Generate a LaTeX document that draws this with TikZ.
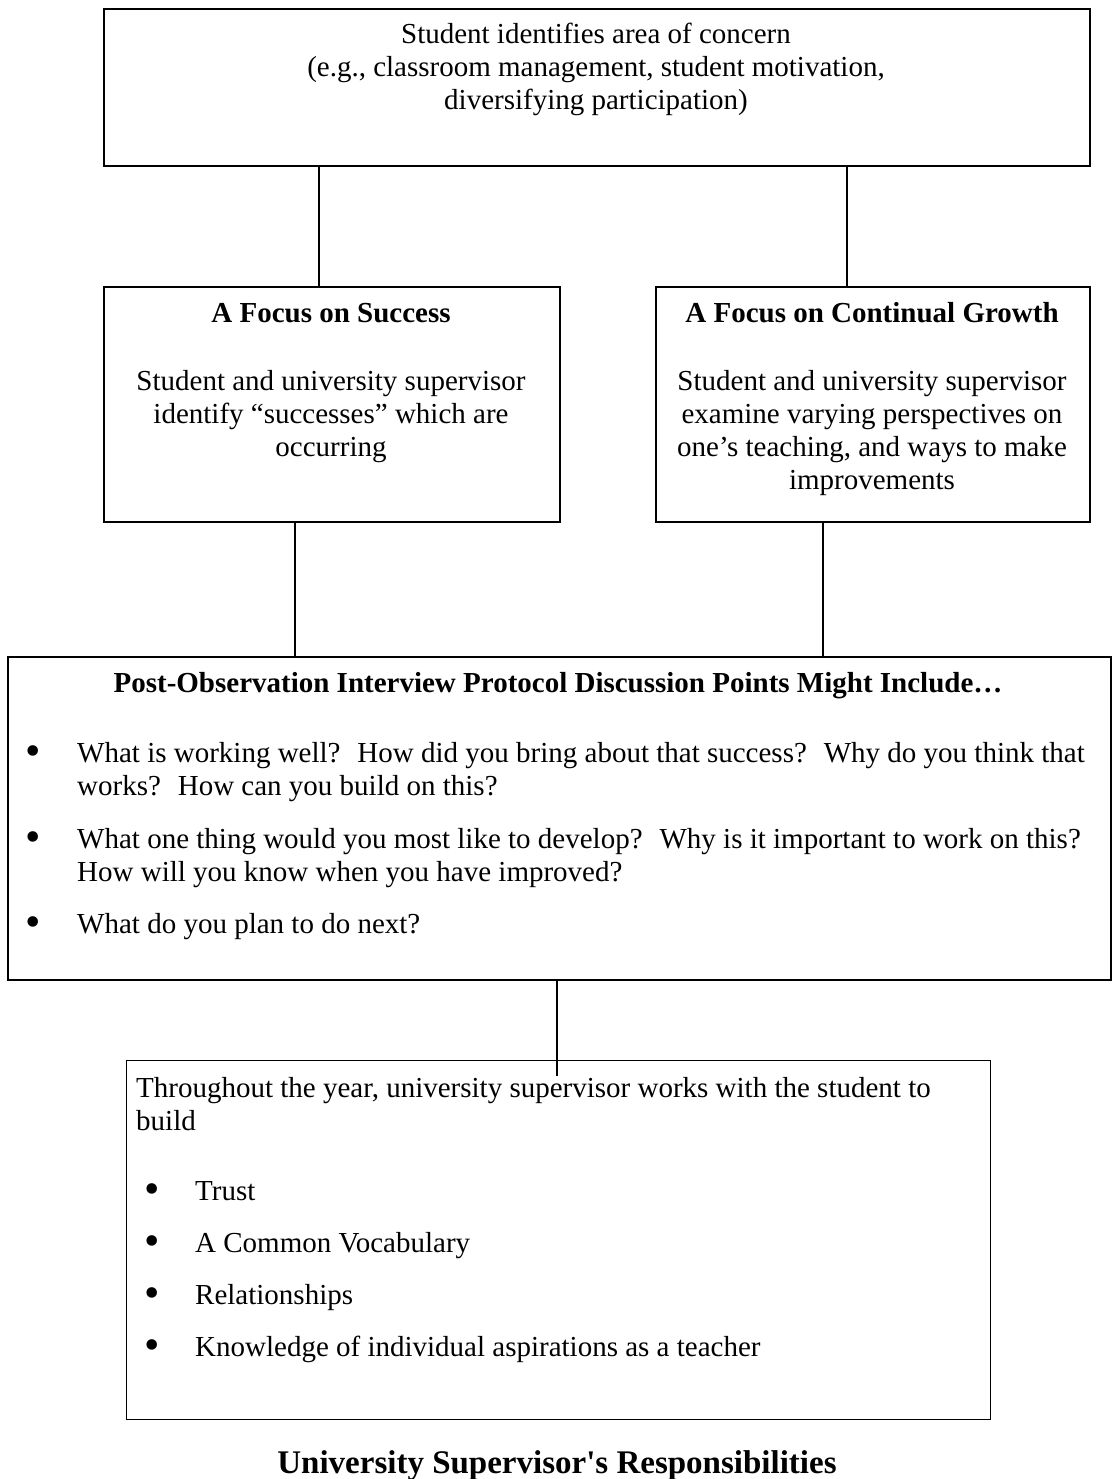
\documentclass[tikz,border=0pt]{standalone}
\usepackage{fontspec}
\setmainfont{Liberation Serif}
\begin{document}
\begin{tikzpicture}[x=1pt,y=-1pt,
  box/.style={draw, line width=1.6pt, inner sep=0pt, anchor=north west},
  conn/.style={line width=1.3pt},
  body/.style={inner sep=0pt, anchor=base, font=\fontsize{29}{33}\selectfont},
  bodyl/.style={inner sep=0pt, anchor=base west, align=left, font=\fontsize{29}{33}\selectfont},
  dot/.style={inner sep=0pt, anchor=base, font=\fontsize{44}{44}\selectfont},
  head/.style={inner sep=0pt, anchor=base, font=\fontsize{29}{33}\selectfont\bfseries}]
\useasboundingbox (0,0) rectangle (1112,1479);
\fill[white] (0,0) rectangle (1112,1479);

% boxes
\node[box, minimum width=986pt, minimum height=157pt] (top) at (103,8) {};
\node[box, minimum width=456pt, minimum height=235pt] (left) at (103,286) {};
\node[box, minimum width=434pt, minimum height=235pt] (right) at (655,286) {};
\node[box, minimum width=1103pt, minimum height=323pt] (big) at (7,656) {};
\node[box, line width=1.3pt, minimum width=864pt, minimum height=359pt] (bot) at (126,1060) {};

% texts (base anchor = baseline of the last line)
\node[body, align=center] (t1) at (596,110) {Student identifies area of concern\\(e.g., classroom management, student motivation,\\diversifying participation)};

\node[head] (lh) at (331,322) {A Focus on Success};
\node[body, align=center] (lb) at (331,456) {Student and university supervisor\\identify “successes” which are\\occurring};

\node[head] (rh) at (872,322) {A Focus on Continual Growth};
\node[body, align=center] (rb) at (872,489) {Student and university supervisor\\examine varying perspectives on\\one’s teaching, and ways to make\\improvements};

\node[head] (bh) at (558,692) {Post-Observation Interview Protocol Discussion Points Might Include…};
\node[dot] (d1) at (33,765) {\textbullet};
\node[bodyl] (p1) at (77,795) {What is working well?~ How did you bring about that success?~ Why do you think that\\works?~ How can you build on this?};
\node[dot] (d2) at (33,851) {\textbullet};
\node[bodyl] (p2) at (77,881) {What one thing would you most like to develop?~ Why is it important to work on this?\\How will you know when you have improved?};
\node[dot] (d3) at (33,936) {\textbullet};
\node[bodyl] (p3) at (77,933) {What do you plan to do next?};

\node[bodyl] (q0) at (136,1130) {Throughout the year, university supervisor works with the student to\\build};
\node[dot] (e1) at (152,1203) {\textbullet};
\node[bodyl] (q1) at (195,1200) {Trust};
\node[dot] (e2) at (152,1255) {\textbullet};
\node[bodyl] (q2) at (195,1252) {A Common Vocabulary};
\node[dot] (e3) at (152,1307) {\textbullet};
\node[bodyl] (q3) at (195,1304) {Relationships};
\node[dot] (e4) at (152,1359) {\textbullet};
\node[bodyl] (q4) at (195,1356) {Knowledge of individual aspirations as a teacher};

\node[inner sep=0pt, anchor=base, font=\fontsize{33}{37}\selectfont\bfseries] (title) at (557,1473) {University Supervisor\textquotesingle s Responsibilities};

% connectors
\coordinate (k1) at (319,0);
\coordinate (k2) at (847,0);
\coordinate (k3) at (295,0);
\coordinate (k4) at (823,0);
\coordinate (k5) at (557,1076);
\draw[conn] (top.south -| k1) -- (left.north -| k1);
\draw[conn] (top.south -| k2) -- (right.north -| k2);
\draw[conn] (left.south -| k3) -- (big.north -| k3);
\draw[conn] (right.south -| k4) -- (big.north -| k4);
\draw[conn] (big.south -| k5) -- (k5);
\end{tikzpicture}
\end{document}
